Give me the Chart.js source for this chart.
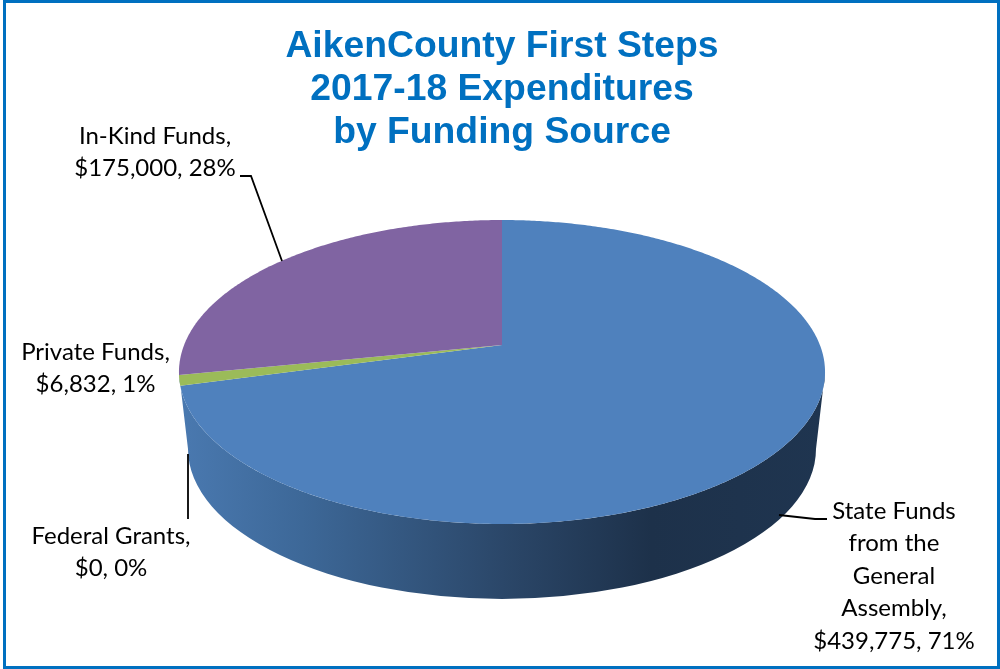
<!DOCTYPE html>
<html>
<head>
<meta charset="utf-8">
<title>AikenCounty First Steps</title>
<script src="https://cdn.jsdelivr.net/npm/chart.js@4/dist/chart.umd.min.js"></script>
<style>
  html, body { margin: 0; padding: 0; background: #fff; overflow: hidden; }
  #wrap { position: relative; width: 1000px; height: 669px; }
  #frame { position: absolute; left: 3px; top: 0; width: 997px; height: 669px; box-sizing: border-box; border: 3.5px solid #0070c0; pointer-events: none; }
  canvas { position: absolute; left: 0; top: 0; }
</style>
</head>
<body>
<div id="wrap">
  <canvas id="pieCanvas" width="1000" height="669"></canvas>
  <div id="frame"></div>
</div>
<script>
// Chart data, clockwise from 12 o'clock
const categories = ['State Funds from the General Assembly', 'Federal Grants', 'Private Funds', 'In-Kind Funds'];
const amounts = [439775, 0, 6832, 175000];
const sliceColors = ['#4f81bd', '#c0504d', '#9bbb59', '#8064a2'];
const titleLines = ['AikenCounty First Steps', '2017-18 Expenditures', 'by Funding Source'];

// How each category name wraps in its label
const nameLines = [
  ['State Funds', 'from the', 'General', 'Assembly,'],
  ['Federal Grants,'],
  ['Private Funds,'],
  ['In-Kind Funds,']
];

// Where each label sits (center x, first line center y) and its leader line
const labelSpots = [
  { x: 894, y: 511, leader: [[779, 515], [815, 519], [827, 519]] },
  { x: 111, y: 536, leader: [[188, 454], [188, 519]] },
  { x: 95.5, y: 352, leader: null },
  { x: 155, y: 136, leader: [[240, 176], [251, 176], [282, 261]] }
];
const LABEL_LINE_HEIGHT = 32.5;

// Perspective of the top face, fitted to the picture
const view = { cx: 502, cy: 345, r: 317.9, tilt: -0.1776, drop: 85.9 };
// Lower rim of the pie
const rim = { cx: 502, cy: 449, rx: 314, ry: 150 };

function project(angle) {
  const u = Math.cos(angle);
  const v = Math.sin(angle);
  const w = 1 + view.tilt * v;
  return { x: view.cx + view.r * u / w, y: (view.drop * v + view.cy) / w };
}

// Side wall, between the front of the top face and the lower rim
function drawWall(ctx) {
  const grad = ctx.createLinearGradient(179, 0, 826, 0);
  grad.addColorStop(0, '#4a79b0');
  grad.addColorStop(0.19, '#3d6898');
  grad.addColorStop(0.5, '#2b4769');
  grad.addColorStop(0.73, '#1d314a');
  grad.addColorStop(1, '#1f3550');

  // widest points of the projected circle are a little below the apex
  const edge = Math.asin(-view.tilt);
  ctx.beginPath();
  for (let a = edge; a <= Math.PI - edge; a += 0.01) {
    const p = project(a);
    if (a === edge) ctx.moveTo(p.x, p.y);
    else ctx.lineTo(p.x, p.y);
  }
  ctx.ellipse(rim.cx, rim.cy, rim.rx, rim.ry, 0, Math.PI, 0, true);
  ctx.closePath();
  ctx.fillStyle = grad;
  ctx.fill();
}

function drawSlice(ctx, arc, color) {
  if (arc.endAngle - arc.startAngle <= 0) return;
  const steps = Math.max(2, Math.ceil((arc.endAngle - arc.startAngle) / 0.01));
  ctx.beginPath();
  ctx.moveTo(view.cx, view.cy);
  for (let i = 0; i <= steps; i++) {
    const p = project(arc.startAngle + (arc.endAngle - arc.startAngle) * i / steps);
    ctx.lineTo(p.x, p.y);
  }
  ctx.closePath();
  ctx.fillStyle = color;
  ctx.fill();
}

function drawLabels(ctx) {
  const total = amounts.reduce((a, b) => a + b, 0);
  ctx.font = '24px Lato';
  ctx.fillStyle = '#000';
  ctx.textAlign = 'center';
  ctx.textBaseline = 'middle';
  categories.forEach((name, i) => {
    const spot = labelSpots[i];
    const pct = Math.round(amounts[i] / total * 100);
    const lines = nameLines[i].concat(`$${amounts[i].toLocaleString('en-US')}, ${pct}%`);
    lines.forEach((line, n) => ctx.fillText(line, spot.x, spot.y + n * LABEL_LINE_HEIGHT));

    if (spot.leader) {
      ctx.beginPath();
      spot.leader.forEach((p, n) => (n ? ctx.lineTo(p[0], p[1]) : ctx.moveTo(p[0], p[1])));
      ctx.strokeStyle = '#000';
      ctx.lineWidth = 1.8;
      ctx.stroke();
    }
  });
}

// Chart.js pies are flat, so the tilted 3D look is painted here from the arc angles it computed
const pie3d = {
  id: 'pie3d',
  beforeDatasetsDraw(chart) {
    const ctx = chart.ctx;
    const arcs = chart.getDatasetMeta(0).data;
    ctx.save();
    drawWall(ctx);
    arcs.forEach((arc, i) => drawSlice(ctx, arc, sliceColors[i]));
    drawLabels(ctx);
    ctx.restore();
    return false;
  }
};

new Chart(document.getElementById('pieCanvas'), {
  type: 'pie',
  data: {
    labels: categories,
    datasets: [{ data: amounts, backgroundColor: sliceColors, borderWidth: 0 }]
  },
  options: {
    responsive: false,
    animation: false,
    layout: { padding: { left: 4 } },
    plugins: {
      legend: { display: false },
      tooltip: { enabled: false },
      title: {
        display: true,
        fullSize: false,
        text: titleLines,
        color: '#0070c0',
        font: { family: 'Liberation Sans', size: 37.3, weight: 'bold', lineHeight: 1.15 },
        padding: { top: 25, bottom: 0 }
      }
    }
  },
  plugins: [pie3d]
});
</script>
</body>
</html>
